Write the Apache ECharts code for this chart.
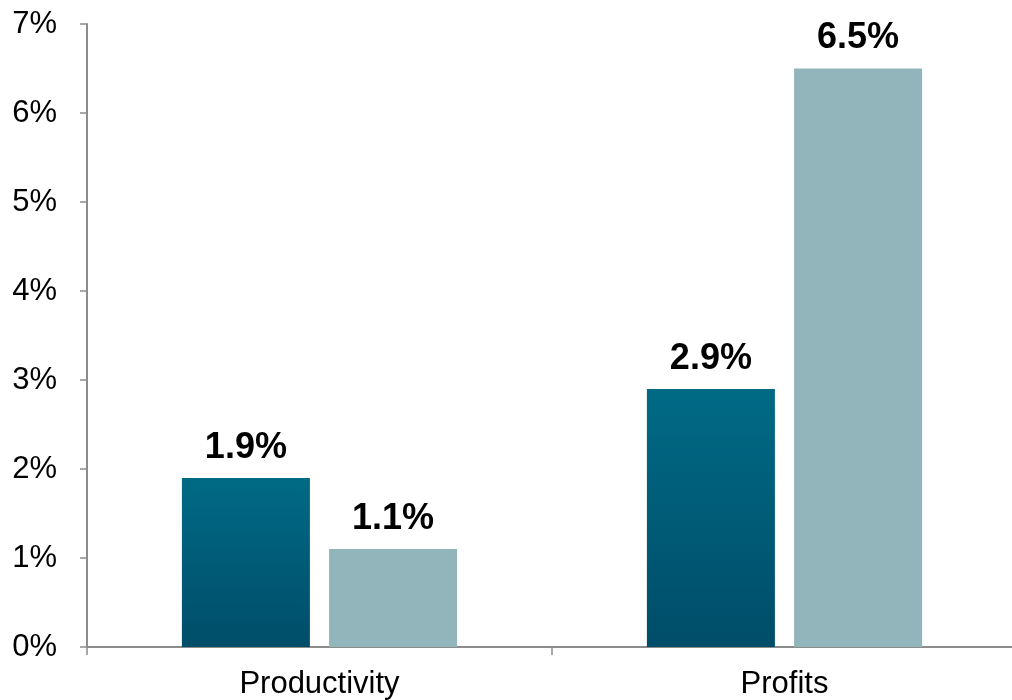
<!DOCTYPE html>
<html>
<head>
<meta charset="utf-8">
<script src="https://cdn.jsdelivr.net/npm/echarts@6/dist/echarts.min.js"></script>
<style>
  html, body { margin: 0; padding: 0; background: #fff; }
  #chart { width: 1012px; height: 700px; }
</style>
</head>
<body>
<div id="chart"></div>
<script>
const categories = ["Productivity", "Profits"];
const seriesA = [1.9, 2.9];
const seriesB = [1.1, 6.5];
const yTicks = [0, 1, 2, 3, 4, 5, 6, 7];

const font = "'Liberation Sans', Arial, sans-serif";
const axisGrey = "#8c8c8c";

const chart = echarts.init(document.getElementById("chart"));
chart.setOption({
  animation: false,
  grid: {
    left: 87, width: 930, top: 24, bottom: 53,
    containLabel: false, outerBoundsMode: "none"
  },
  xAxis: {
    type: "category",
    data: categories,
    axisLine: { lineStyle: { color: axisGrey, width: 2 } },
    axisTick: { show: true, length: 8, lineStyle: { color: axisGrey, width: 1.5 } },
    axisLabel: { color: "#000", fontFamily: font, fontSize: 31, margin: 22 }
  },
  yAxis: {
    type: "value",
    min: yTicks[0],
    max: yTicks[yTicks.length - 1],
    interval: 1,
    axisLine: { show: true, lineStyle: { color: axisGrey, width: 2 } },
    axisTick: { show: true, length: 7, lineStyle: { color: axisGrey, width: 1.5 } },
    splitLine: { show: false },
    axisLabel: {
      color: "#000", fontFamily: font, fontSize: 31, margin: 30,
      formatter: (v) => v + "%"
    }
  },
  series: [
    {
      type: "bar",
      data: seriesA,
      barWidth: 128,
      barGap: "15%",
      itemStyle: {
        color: new echarts.graphic.LinearGradient(0, 0, 0, 1, [
          { offset: 0, color: "#006a85" },
          { offset: 1, color: "#004d69" }
        ])
      },
      label: {
        show: true, position: "top", distance: 12,
        color: "#000", fontFamily: font, fontSize: 36, fontWeight: "bold",
        formatter: (p) => p.value.toFixed(1) + "%"
      }
    },
    {
      type: "bar",
      data: seriesB,
      barWidth: 128,
      itemStyle: { color: "#91b5ba" },
      label: {
        show: true, position: "top", distance: 12,
        color: "#000", fontFamily: font, fontSize: 36, fontWeight: "bold",
        formatter: (p) => p.value.toFixed(1) + "%"
      }
    }
  ]
});
</script>
</body>
</html>
